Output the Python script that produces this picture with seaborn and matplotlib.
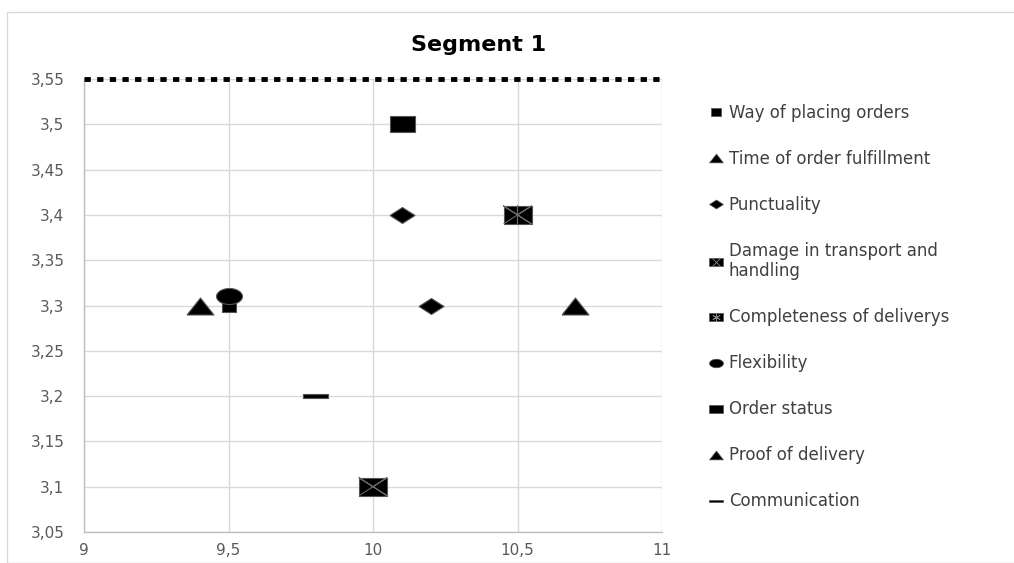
import numpy as np
import pandas as pd
import matplotlib
matplotlib.use('Agg')
import matplotlib.pyplot as plt
import seaborn as sns
from matplotlib.lines import Line2D
from matplotlib.patches import Rectangle

# Chart values
series = ['Way of placing orders', 'Time of order fulfillment', 'Punctuality', 'Punctuality',
          'Damage in transport and\nhandling', 'Completeness of deliverys', 'Flexibility',
          'Order status', 'Proof of delivery', 'Communication']
x_vals = [9.5, 9.4, 10.1, 10.2, 10.0, 10.5, 9.5, 10.1, 10.7, 9.8]
y_vals = [3.30, 3.30, 3.40, 3.30, 3.10, 3.40, 3.31, 3.50, 3.30, 3.20]

legend_order = ['Way of placing orders', 'Time of order fulfillment', 'Punctuality',
                'Damage in transport and\nhandling', 'Completeness of deliverys', 'Flexibility',
                'Order status', 'Proof of delivery', 'Communication']
x_ticks = [9, 9.5, 10, 10.5, 11]
x_tick_labels = ['9', '9,5', '10', '10,5', '11']
y_ticks = [3.05, 3.1, 3.15, 3.2, 3.25, 3.3, 3.35, 3.4, 3.45, 3.5, 3.55]
y_tick_labels = ['3,05', '3,1', '3,15', '3,2', '3,25', '3,3', '3,35', '3,4', '3,45', '3,5', '3,55']

df = pd.DataFrame({'series': series, 'x': x_vals, 'y': y_vals})


def rect(w, h):
    return [(-w, -h), (w, -h), (w, h), (-w, h), (-w, -h)]


def ellipse(w, h, n=40):
    t = np.linspace(0, 2 * np.pi, n)
    return list(zip(w * np.cos(t), h * np.sin(t)))


# marker shapes (the reference is stretched sideways, so shapes are wide)
m_small_sq = rect(13, 11)
m_big_sq = rect(25, 16)
m_tri = [(-27, -17), (27, -17), (0, 17), (-27, -17)]
m_diamond = [(-25, 0), (0, 16), (25, 0), (0, -16), (-25, 0)]
m_box = rect(28, 18)
m_circle = ellipse(26, 16)
m_dash = rect(25, 4)

markers = {
    'Way of placing orders': m_small_sq,
    'Time of order fulfillment': m_tri,
    'Punctuality': m_diamond,
    'Damage in transport and\nhandling': m_box,
    'Completeness of deliverys': m_box,
    'Flexibility': m_circle,
    'Order status': m_big_sq,
    'Proof of delivery': m_tri,
    'Communication': m_dash,
}
sizes = {
    'Way of placing orders': 88,
    'Time of order fulfillment': 378,
    'Punctuality': 324,
    'Damage in transport and\nhandling': 420,
    'Completeness of deliverys': 420,
    'Flexibility': 350,
    'Order status': 324,
    'Proof of delivery': 378,
    'Communication': 324,
}

sns.set_style('white')
plt.rcParams['font.family'] = ['DejaVu Sans']

fig = plt.figure(figsize=(10.14, 5.63), dpi=100)
ax = fig.add_axes([84 / 1014, 1 - 532 / 563, (662 - 84) / 1014, (532 - 79) / 563])

# draw Flexibility after the small square so the circle sits on top
draw_order = ['Way of placing orders', 'Time of order fulfillment', 'Punctuality',
              'Damage in transport and\nhandling', 'Completeness of deliverys',
              'Order status', 'Proof of delivery', 'Communication', 'Flexibility']
for name in draw_order:
    sub = df[df['series'] == name]
    sns.scatterplot(data=sub, x='x', y='y', marker=markers[name], s=sizes[name],
                    color='black', edgecolor='#555555', linewidth=0.8, ax=ax, zorder=3)

# cross lines inside the boxed markers
dmg = df[df['series'] == 'Damage in transport and\nhandling']
ax.scatter(dmg['x'], dmg['y'], marker=[(-28, -18), (28, 18), (0, 0), (-28, 18), (28, -18), (0, 0)],
           s=400, facecolor='none', edgecolor='#666666', linewidth=0.8, zorder=4)
cmp_ = df[df['series'] == 'Completeness of deliverys']
ax.scatter(cmp_['x'], cmp_['y'], marker=[(-28, -18), (28, 18), (0, 0), (-28, 18), (28, -18), (0, 0),
                                         (0, 18), (0, -18), (0, 0)],
           s=400, facecolor='none', edgecolor='#666666', linewidth=0.8, zorder=4)

ax.set_xlim(9, 11)
ax.set_ylim(3.05, 3.55)
ax.set_xticks(x_ticks)
ax.set_xticklabels(x_tick_labels)
ax.set_yticks(y_ticks)
ax.set_yticklabels(y_tick_labels)
ax.tick_params(length=0, labelsize=11, labelcolor='#595959')
ax.tick_params(axis='y', pad=14)
ax.tick_params(axis='x', pad=8)
ax.set_xlabel('')
ax.set_ylabel('')
ax.grid(True, color='#d9d9d9', linewidth=1)
ax.set_axisbelow(True)

for side in ['left', 'bottom']:
    ax.spines[side].set_color('#bfbfbf')
    ax.spines[side].set_linewidth(1)
ax.spines['right'].set_visible(False)
ax.spines['top'].set_visible(False)
# dotted top border
ax.axhline(3.55, color='black', linewidth=3.5, linestyle=(0, (1.3, 1.3)),
           dash_capstyle='butt', clip_on=False, zorder=5)

fig.text(479 / 1014, 1 - 45 / 563, 'Segment 1', ha='center', va='center',
         fontsize=16, fontweight='bold', color='black')

# legend with small markers
leg_markers = {
    'Way of placing orders': (m_small_sq, 7),
    'Time of order fulfillment': (m_tri, 10),
    'Punctuality': (m_diamond, 10),
    'Damage in transport and\nhandling': (m_box, 10),
    'Completeness of deliverys': (m_box, 10),
    'Flexibility': (m_circle, 10),
    'Order status': (m_big_sq, 10),
    'Proof of delivery': (m_tri, 10),
    'Communication': (m_dash, 10),
}
handles = []
for name in legend_order:
    mk, ms = leg_markers[name]
    h = Line2D([], [], linestyle='none', marker=mk, markersize=ms,
               markerfacecolor='black', markeredgecolor='#555555', markeredgewidth=0.5)
    if name.startswith('Damage'):
        h = (h, Line2D([], [], linestyle='none', marker='x', markersize=6,
                       markeredgecolor='#888888', markeredgewidth=0.6))
    elif name.startswith('Completeness'):
        h = (h, Line2D([], [], linestyle='none', marker=(6, 2, 0), markersize=6,
                       markeredgecolor='#888888', markeredgewidth=0.6))
    handles.append(h)

fig.legend(handles, legend_order, loc='upper left', bbox_to_anchor=(702 / 1014, 1 - 97 / 563),
           frameon=False, fontsize=12, labelcolor='#404040', handlelength=0.9,
           handletextpad=0.3, labelspacing=1.68, borderaxespad=0)

# outer chart border
fig.patches.append(Rectangle((7 / 1014, 0), 1.1, 1 - 12 / 563, transform=fig.transFigure,
                             fill=False, edgecolor='#d9d9d9', linewidth=1))

plt.savefig('out.png', dpi=100)
